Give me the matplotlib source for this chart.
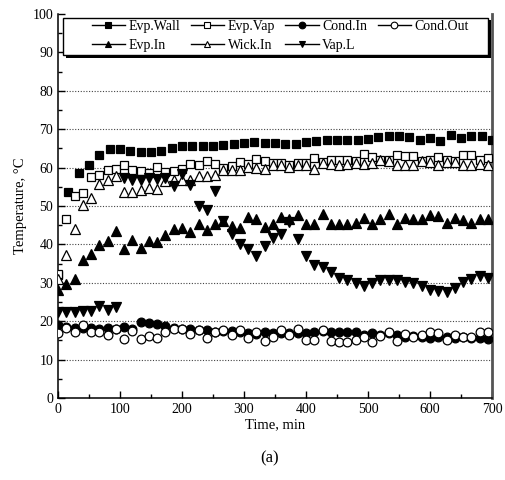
import numpy as np
import matplotlib
matplotlib.use("Agg")
import matplotlib.pyplot as plt
from matplotlib.lines import Line2D
from matplotlib.patches import Rectangle
from matplotlib.ticker import MultipleLocator

plt.rcParams['font.family'] = ['Liberation Serif', 'DejaVu Serif']

# ---- data ----
wall_step = 700 / 42          # Evp.Wall sampling (min)
other_step = 40 / 3           # other series sampling (min)

evp_wall = [32.0, 53.7, 58.6, 60.6, 63.2, 64.9, 64.8, 64.3, 64.1, 64.1, 64.3, 65.0, 65.5, 65.5,
            65.5, 65.5, 65.8, 66.1, 66.4, 66.7, 66.4, 66.4, 66.2, 66.2, 66.7, 66.9, 67.1, 67.3,
            67.1, 67.3, 67.5, 68.0, 68.1, 68.1, 68.0, 67.3, 67.8, 66.9, 68.4, 67.8, 68.1, 68.1, 67.3]

evp_vap = [32.4, 46.5, 52.5, 53.5, 57.6, 58.0, 59.3, 59.7, 60.6, 59.3, 59.0, 58.7, 60.2, 58.8,
           59.1, 59.7, 60.9, 60.8, 61.6, 61.0, 60.0, 60.3, 61.5, 61.0, 62.2, 61.7, 61.1,
           61.3, 60.6, 61.2, 61.3, 62.6, 61.5, 61.9, 61.9, 61.9, 61.7, 63.5, 62.8, 61.9, 61.9,
           63.2, 62.9, 62.9, 61.7, 61.9, 62.8, 61.9, 61.7, 63.2, 63.2, 62.1, 62.6]

cond_in = [19.0, 18.6, 18.2, 18.2, 18.2, 17.9, 18.2, 18.0, 18.6, 18.0, 19.9, 19.6, 19.2, 18.8,
           18.2, 18.0, 17.9, 17.8, 17.7, 17.3, 17.5, 17.5, 17.3, 16.8, 16.7, 17.3, 17.0,
           16.8, 16.8, 16.8, 17.0, 17.1, 17.5, 17.1, 17.1, 17.1, 17.1, 16.5, 16.8, 16.3, 16.8,
           16.4, 16.0, 16.2, 15.8, 15.5, 15.8, 15.8, 15.5, 15.8, 15.5, 15.5, 15.3]

cond_out = [17.0, 18.2, 17.3, 19.0, 17.3, 17.3, 16.4, 17.9, 15.3, 17.5, 15.3, 16.2, 15.5, 17.1,
            17.9, 18.0, 16.7, 17.7, 15.5, 17.3, 17.7, 16.4, 17.7, 15.5, 17.3, 14.9, 15.8,
            17.6, 16.4, 17.9, 15.1, 15.1, 17.6, 14.9, 14.6, 14.6, 15.1, 16.0, 14.6, 16.1, 17.3,
            14.8, 16.7, 16.0, 16.4, 17.3, 16.8, 15.1, 16.4, 16.0, 16.0, 17.3, 17.1]

evp_in = [28.2, 29.6, 30.9, 35.9, 37.4, 39.8, 40.8, 43.4, 38.7, 41.1, 39.1, 40.9, 40.6, 42.4,
          43.9, 44.4, 43.3, 45.2, 43.7, 45.4, 46.1, 44.8, 44.3, 47.2, 46.5, 44.5, 45.4,
          47.2, 46.7, 47.6, 45.4, 45.2, 47.8, 45.4, 45.4, 45.4, 45.6, 46.9, 45.4, 46.7, 48.0,
          45.2, 47.0, 46.5, 46.6, 47.6, 47.4, 45.7, 46.9, 46.3, 45.7, 46.7, 46.5]

wick_in = [31.1, 37.2, 43.9, 50.2, 52.1, 55.6, 56.7, 57.8, 53.7, 53.7, 54.1, 54.7, 54.3, 56.4,
           56.7, 56.7, 56.7, 57.7, 57.7, 58.0, 59.5, 59.5, 59.3, 60.2, 60.0, 59.7, 60.8,
           60.6, 60.2, 60.8, 60.8, 59.7, 61.2, 61.0, 60.8, 61.0, 61.2, 61.0, 61.2, 61.9, 61.8,
           60.6, 60.8, 60.8, 61.7, 61.5, 60.8, 61.5, 61.5, 60.6, 60.6, 61.0, 60.8]

vap_l = [22.5, 22.3, 22.5, 22.7, 22.7, 24.0, 22.9, 23.8,
         57.3, 56.7, 56.9, 57.3, 57.1, 57.3, 55.2, 58.4, 55.4, 49.9, 48.9, 53.8, 46.0, 42.8,
         40.0, 38.7, 37.1, 39.5, 41.7, 42.8, 45.8, 41.3, 37.1, 34.7, 34.1, 32.8, 31.3, 30.7,
         30.0, 29.2, 30.0, 30.7, 30.7, 30.7, 30.3, 29.9, 29.1, 28.2, 27.8, 27.6, 28.7, 30.3,
         31.1, 31.7, 31.3]

t_wall = np.arange(len(evp_wall)) * wall_step
t_other = np.arange(len(evp_vap)) * other_step

labels = ['Evp.Wall', 'Evp.Vap', 'Cond.In', 'Cond.Out', 'Evp.In', 'Wick.In', 'Vap.L']

# ---- figure ----
fig = plt.figure(figsize=(5.06, 4.80), dpi=100)
ax = fig.add_axes([58/506, 1 - 398/480, 434/506, 384/480])

series = [
    (t_wall, evp_wall, 's', 'black', 6.0),
    (t_other, evp_vap, 's', 'white', 6.0),
    (t_other, cond_in, 'o', 'black', 6.3),
    (t_other, cond_out, 'o', 'white', 6.3),
    (t_other, evp_in, '^', 'black', 7.0),
    (t_other, wick_in, '^', 'white', 7.0),
    (t_other, vap_l, 'v', 'black', 7.0),
]
for (t, y, m, fc, ms), lab in zip(series, labels):
    ax.plot(t, y, linestyle='none', marker=m, markersize=ms, markerfacecolor=fc,
            markeredgecolor='black', markeredgewidth=0.9, zorder=3)

ax.set_xlim(0, 700)
ax.set_ylim(0, 100)
ax.xaxis.set_major_locator(MultipleLocator(100))
ax.xaxis.set_minor_locator(MultipleLocator(50))
ax.yaxis.set_major_locator(MultipleLocator(10))
ax.yaxis.set_minor_locator(MultipleLocator(5))
ax.tick_params(which='both', direction='in', top=False, right=False, labelsize=10, width=1)
ax.tick_params(which='major', length=5)
ax.tick_params(which='minor', length=3)

for yv in range(10, 100, 10):
    ax.axhline(yv, color='#444444', linestyle=(0, (1, 1.5)), linewidth=0.8, zorder=1)

ax.spines['top'].set_visible(False)
ax.spines['left'].set_linewidth(1.1)
ax.spines['bottom'].set_linewidth(1.1)
ax.spines['right'].set_linewidth(2.0)
ax.spines['right'].set_color('#555555')

ax.set_xlabel('Time, min', fontsize=10.5, labelpad=2)
ax.set_ylabel('Temperature, °C', fontsize=10.5, labelpad=4)
fig.text(270/506, 1 - 458/480, '(a)', ha='center', va='center', fontsize=12)

# legend box with shadow
x0, w = 0.0108, 0.98
y0, h = 0.893, 0.097
shadow = Rectangle((x0 + 3/434, y0 - 2.5/384), w, h, transform=ax.transAxes,
                   facecolor='black', edgecolor='none', zorder=4, clip_on=False)
box = Rectangle((x0, y0), w, h, transform=ax.transAxes,
                facecolor='white', edgecolor='black', linewidth=1.0, zorder=4.5, clip_on=False)
ax.add_patch(shadow)
ax.add_patch(box)

handles = []
for (t, y, m, fc, ms), lab in zip(series, labels):
    handles.append(Line2D([0], [0], color='black', linewidth=1.0, marker=m,
                          markersize=4.8, markerfacecolor=fc, markeredgecolor='black',
                          markeredgewidth=0.8, label=lab))
order = [0, 4, 1, 5, 2, 6, 3]
leg = ax.legend([handles[i] for i in order], [labels[i] for i in order], ncol=4,
                loc='upper left', bbox_to_anchor=(0.0777, 0.984), frameon=False,
                fontsize=10, handlelength=2.4, handletextpad=0.25, columnspacing=0.75,
                labelspacing=0.4, borderpad=0, borderaxespad=0)
leg.set_zorder(6)

fig.savefig('out.png', dpi=100)
